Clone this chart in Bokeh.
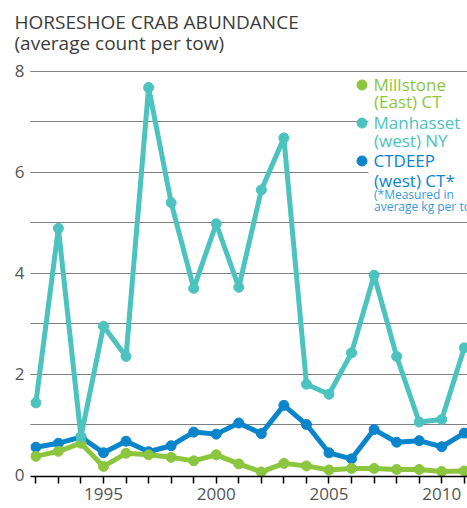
from bokeh.plotting import figure
from bokeh.models import FixedTicker, Legend, LegendItem, Label, BoxAnnotation, Range1d
from bokeh.embed import file_html
from bokeh.resources import INLINE

# ---- data ----
years = list(range(1992, 2012))
millstone = [0.37, 0.47, 0.63, 0.17, 0.43, 0.40, 0.35, 0.28, 0.40, 0.22,
             0.06, 0.23, 0.18, 0.10, 0.13, 0.13, 0.11, 0.11, 0.07, 0.08]
manhasset = [1.43, 4.89, 0.76, 2.95, 2.35, 7.68, 5.40, 3.70, 4.98, 3.72,
             5.65, 6.68, 1.80, 1.60, 2.42, 3.96, 2.35, 1.05, 1.10, 2.52]
ctdeep = [0.55, 0.63, 0.75, 0.44, 0.67, 0.46, 0.58, 0.85, 0.81, 1.03,
          0.82, 1.38, 1.00, 0.44, 0.32, 0.90, 0.65, 0.68, 0.56, 0.83]
x_label_years = [1995, 2000, 2005, 2010]
y_label_ticks = [0, 2, 4, 6, 8]
grid_ticks = [1, 2, 3, 4, 5, 6, 7, 8]

title_lines = ["HORSESHOE CRAB ABUNDANCE", "(average count per tow)"]

GREEN = "#8CC63F"
TEAL = "#4CC3BF"
BLUE = "#0A84CA"
FONT = "Open Sans"

p = figure(width=467, height=508, output_backend="svg", toolbar_location=None,
           x_range=Range1d(1991.763, 2011.142), y_range=Range1d(-0.03, 8.177),
           min_border_left=30, min_border_right=0, min_border_top=60,
           min_border_bottom=32)
p.outline_line_color = None
p.background_fill_color = "white"

p.title.text = "\n".join(title_lines)
p.title.align = "left"
p.title.offset = -16
p.title.text_font = FONT
p.title.text_font_size = "19px"
p.title.text_font_style = "normal"
p.title.text_color = "#3c3c3c"
p.title.text_line_height = 0.8
p.title.standoff = 13

renderers = {}
for name, vals, color in [("ctdeep", ctdeep, BLUE), ("millstone", millstone, GREEN),
                          ("manhasset", manhasset, TEAL)]:
    p.line(years, vals, line_width=5, line_color=color, line_join="round")
    renderers[name] = p.scatter(years, vals, size=10, fill_color=color, line_color=color)

# axes
p.xaxis.ticker = FixedTicker(ticks=years)
p.xaxis.major_label_overrides = {yr: (str(yr) if yr in x_label_years else "") for yr in years}
p.xaxis.major_tick_out = 7
p.xaxis.major_tick_in = 0
p.xaxis.major_tick_line_width = 1.5
p.xaxis.major_tick_line_color = "black"
p.xaxis.axis_line_width = 1.5
p.xaxis.axis_line_color = "black"
p.xaxis.minor_tick_line_color = None
p.xaxis.major_label_standoff = 4
p.xaxis.major_label_text_font = FONT
p.xaxis.major_label_text_font_size = "17px"
p.xaxis.major_label_text_color = "#555555"

p.yaxis.ticker = FixedTicker(ticks=y_label_ticks)
p.yaxis.axis_line_color = None
p.yaxis.major_tick_line_color = None
p.yaxis.minor_tick_line_color = None
p.yaxis.major_tick_out = 0
p.yaxis.major_tick_in = 0
p.yaxis.major_label_standoff = 6
p.yaxis.major_label_text_font = FONT
p.yaxis.major_label_text_font_size = "17px"
p.yaxis.major_label_text_color = "#555555"

p.xgrid.grid_line_color = None
p.ygrid.ticker = FixedTicker(ticks=grid_ticks)
p.ygrid.grid_line_color = "black"
p.ygrid.grid_line_width = 1
p.ygrid.grid_line_dash = "1 1"

# white backing for legend area
p.add_layout(BoxAnnotation(left=338, right=437, top=404, bottom=262,
                           left_units="screen", right_units="screen",
                           top_units="screen", bottom_units="screen",
                           fill_color="white", fill_alpha=1, line_color=None))

LEG_X = 318.5
TXT_X = 343.5
legend_specs = [
    ("Millstone", "millstone", GREEN, 379.5),
    ("Manhasset", "manhasset", TEAL, 340.8),
    ("CTDEEP", "ctdeep", BLUE, 302.8),
]
for label, key, color, ybot in legend_specs:
    leg = Legend(items=[LegendItem(label=label, renderers=[renderers[key]])],
                 location=(LEG_X, ybot), glyph_width=25, glyph_height=25,
                 label_standoff=0, padding=0, margin=0, spacing=0,
                 border_line_color=None, background_fill_alpha=0,
                 label_text_font=FONT, label_text_font_size="17px",
                 label_text_color=color)
    p.add_layout(leg)

second_lines = [
    ("(East) CT", GREEN, 375.0, "17px"),
    ("(west) NY", TEAL, 336.0, "17px"),
    ("(west) CT*", BLUE, 296.0, "17px"),
    ("(*Measured in", "#3A9AD9", 282.5, "12px"),
    ("average kg per tow)", "#3A9AD9", 270.5, "12px"),
]
for txt, color, yb, fs in second_lines:
    p.add_layout(Label(x=TXT_X, y=yb, x_units="screen", y_units="screen", text=txt,
                       text_font=FONT, text_font_size=fs, text_color=color,
                       text_baseline="alphabetic", text_align="left"))

open("out.html", "w").write(file_html(p, INLINE))
